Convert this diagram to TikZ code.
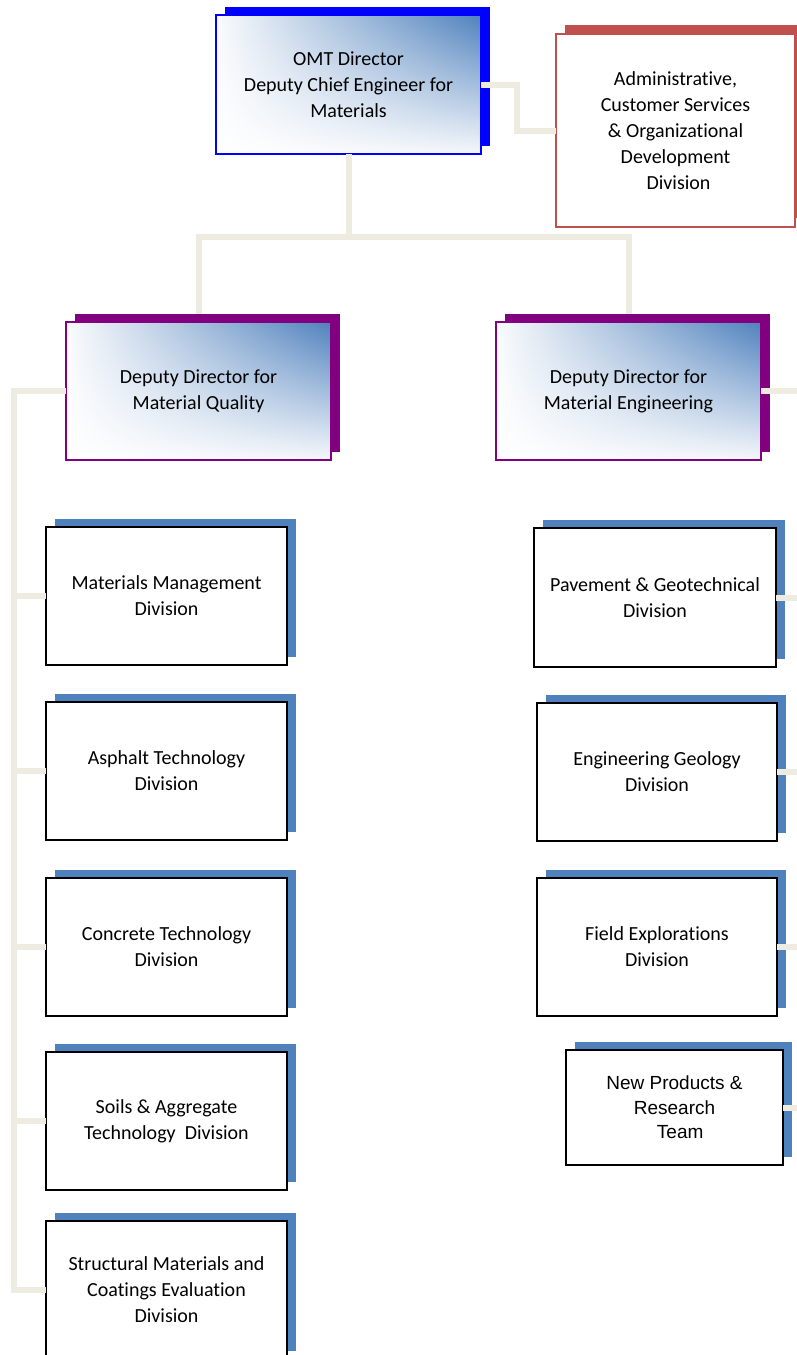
\documentclass[tikz,border=0pt]{standalone}
\usepackage{fontspec}
\setmainfont{Carlito}[Ligatures=NoCommon]
\newfontfamily\arialfont{Liberation Sans}
\usetikzlibrary{shadows,shadings}
\definecolor{conncol}{HTML}{EEECE1}
\definecolor{steel}{HTML}{4F81BD}
\definecolor{pureblue}{HTML}{0000FF}
\definecolor{purp}{HTML}{800080}
\definecolor{redsh}{HTML}{C0504D}
\begin{document}
\begin{tikzpicture}[x=1pt,y=-1pt,
  box/.style={rectangle, inner sep=0pt, outer sep=0pt, align=center,
    font=\fontsize{20}{26}\selectfont, line width=1.2pt},
  gradbox/.style={box, upper right=steel, upper left=steel!3, lower left=white, lower right=steel!6},
  omtbox/.style={gradbox, draw=pureblue, minimum width=265pt, minimum height=139pt,
    general shadow={shadow xshift=9pt, shadow yshift=8pt, fill=pureblue}},
  depbox/.style={gradbox, draw=purp, minimum width=265pt, minimum height=138pt,
    general shadow={shadow xshift=9pt, shadow yshift=8pt, fill=purp}},
  admbox/.style={box, fill=white, draw=redsh, minimum width=239pt, minimum height=193pt,
    general shadow={shadow xshift=9pt, shadow yshift=9pt, fill=redsh}},
  divbox/.style={box, fill=white, draw=black, line width=1.4pt, minimum width=241pt, minimum height=138pt,
    general shadow={shadow xshift=9pt, shadow yshift=8pt, fill=steel}},
  conn/.style={draw=conncol, line width=6pt}
]
\useasboundingbox (0,0) rectangle (797,1355);

% top level
\node[omtbox] (omt) at (348.5,84.5) {OMT Director\\Deputy Chief Engineer for\\Materials};
\node[admbox] (adm) at (675.5,130.5) {Administrative,\\Customer Services\\\& Organizational\\Development\\\hspace*{0.3em}Division};

% deputies
\node[depbox] (dq) at (198.5,391) {Deputy Director for\\Material Quality};
\node[depbox] (de) at (628.5,391) {Deputy Director for\\Material Engineering};

% left divisions
\node[divbox] (mm) at (166.5,596) {Materials Management\\Division};
\node[divbox] (at) at (166.5,771) {Asphalt Technology\\Division};
\node[divbox] (ct) at (166.5,947) {Concrete Technology\\Division};
\node[divbox] (sa) at (166.5,1121) {Soils \& Aggregate\\Technology\ \ Division};
\node[divbox] (sm) at (166.5,1290) {Structural Materials and\\Coatings Evaluation\\Division};

% right divisions
\node[divbox, minimum width=242pt, minimum height=139pt] (pg) at (655,597.5) {Pavement \& Geotechnical\\Division};
\node[divbox, minimum width=240pt] (eg) at (657,772) {Engineering Geology\\Division};
\node[divbox, minimum width=240pt] (fe) at (657,947) {Field Explorations\\Division};
\node[divbox, minimum width=217pt, minimum height=115pt,
  font=\arialfont\fontsize{19}{24.5}\selectfont] (np) at (674.5,1107.5)
  {New Products \&\\Research\\\hspace*{0.6em}Team};

% connectors
\coordinate (lb) at (14,0);
\coordinate (rb) at (805,0);
\draw[conn] (omt.east) -- ++(36,0) |- (adm.west);
\draw[conn] (omt.south) -- ++(0,83) coordinate (jn);
\draw[conn] ([yshift=8pt]dq.north) |- (jn) -| ([yshift=8pt]de.north);
\draw[conn] (dq.west) -| (lb |- sm.west) -- (sm.west);
\foreach \n in {mm,at,ct,sa} \draw[conn] (\n.west) -- (\n.west -| lb);
\foreach \n in {de,pg,eg,fe,np} \draw[conn] (\n.east) -- (\n.east -| rb);
\end{tikzpicture}
\end{document}
